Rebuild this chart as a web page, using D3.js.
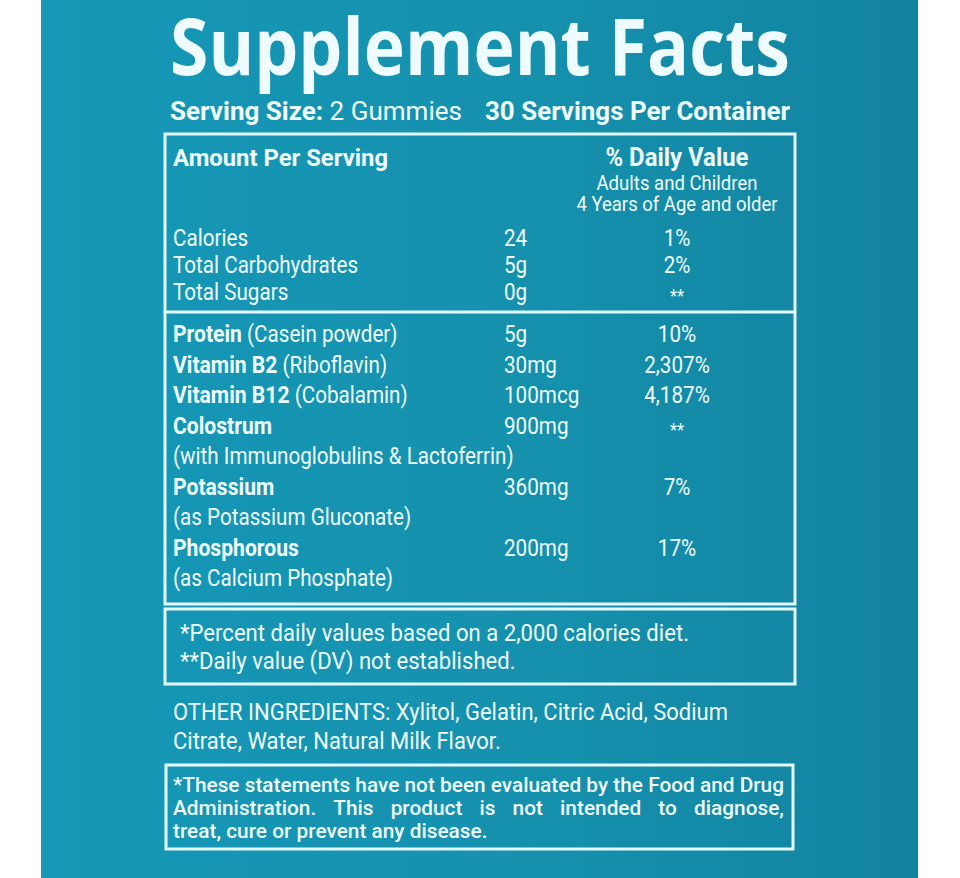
<!DOCTYPE html>
<html>
<head>
<meta charset="utf-8">
<script src="https://cdn.jsdelivr.net/npm/d3@7"></script>
<style>
  html, body { margin: 0; padding: 0; background: #fff; }
  svg { display: block; }
</style>
</head>
<body>
<svg id="label" width="960" height="878"></svg>
<script>
// label content
var title = "Supplement Facts";
var servingSize = ["Serving Size:", "2 Gummies"];
var servingsPer = "30 Servings Per Container";
var headLeft = "Amount Per Serving";
var headRight = ["% Daily Value", "Adults and Children", "4 Years of Age and older"];

var topNames = ["Calories", "Total Carbohydrates", "Total Sugars"];
var topAmounts = ["24", "5g", "0g"];
var topDV = ["1%", "2%", "**"];

var nutrientNames = ["Protein", "Vitamin B2", "Vitamin B12", "Colostrum", "Potassium", "Phosphorous"];
var nutrientSources = ["(Casein powder)", "(Riboflavin)", "(Cobalamin)",
  "(with Immunoglobulins & Lactoferrin)", "(as Potassium Gluconate)", "(as Calcium Phosphate)"];
var nutrientAmounts = ["5g", "30mg", "100mcg", "900mg", "360mg", "200mg"];
var nutrientDV = ["10%", "2,307%", "4,187%", "**", "7%", "17%"];

var footnotes = ["*Percent daily values based on a 2,000 calories diet.",
  "**Daily value (DV) not established."];
var otherIngredients = ["OTHER INGREDIENTS: Xylitol, Gelatin, Citric Acid, Sodium",
  "Citrate, Water, Natural Milk Flavor."];
var disclaimer = ["*These statements have not been evaluated by the Food and Drug",
  "Administration. This product is not intended to diagnose,",
  "treat, cure or prevent any disease."];

var svg = d3.select("#label");
var ink = "#eefcff";
var line = "#e4f9fd";
var cond = "Roboto, 'Noto Sans', sans-serif";

// background
var defs = svg.append("defs");
var grad = defs.append("linearGradient").attr("id", "bg").attr("x1", 0).attr("x2", 1).attr("y1", 0).attr("y2", 0);
grad.append("stop").attr("offset", 0).attr("stop-color", "#1698b7");
grad.append("stop").attr("offset", 0.55).attr("stop-color", "#1591ae");
grad.append("stop").attr("offset", 1).attr("stop-color", "#12839f");
svg.append("rect").attr("x", 41).attr("y", 0).attr("width", 877).attr("height", 878).attr("fill", "url(#bg)");

// squeeze a text to a target width (reads like a condensed face)
function fitTo(sel, w) {
  sel.each(function() {
    if (this.getComputedTextLength() > 0)
      d3.select(this).attr("textLength", w).attr("lengthAdjust", "spacingAndGlyphs");
  });
  return sel;
}
function squeeze(sel, k) {
  sel.each(function() {
    var n = this.getComputedTextLength();
    d3.select(this).attr("textLength", n * k).attr("lengthAdjust", "spacingAndGlyphs");
  });
  return sel;
}
// one ratio for a block of lines, taken from its first line
function blockRatio(sel, w) {
  return w / sel.node().getComputedTextLength();
}

// title
fitTo(svg.append("text").attr("x", 170).attr("y", 75)
  .attr("font-family", "'Open Sans', sans-serif").attr("font-weight", 700).attr("font-size", 78)
  .attr("fill", ink).text(title), 620);

// serving line
var s1 = svg.append("text").attr("x", 170).attr("y", 120).attr("font-family", cond)
  .attr("font-size", 26).attr("fill", ink);
s1.append("tspan").attr("font-weight", 700).text(servingSize[0] + " ");
s1.append("tspan").attr("font-weight", 400).text(servingSize[1]);
fitTo(s1, 292);
fitTo(svg.append("text").attr("x", 485).attr("y", 120).attr("font-family", cond)
  .attr("font-size", 26).attr("font-weight", 700).attr("fill", ink).text(servingsPer), 305);

// boxes
var boxL = 165, boxR = 795;
svg.append("rect").attr("x", boxL).attr("y", 134).attr("width", boxR - boxL).attr("height", 604 - 134)
  .attr("fill", "none").attr("stroke", line).attr("stroke-width", 3);
svg.append("line").attr("x1", boxL).attr("x2", boxR).attr("y1", 312).attr("y2", 312)
  .attr("stroke", line).attr("stroke-width", 3);
svg.append("rect").attr("x", boxL).attr("y", 609).attr("width", boxR - boxL).attr("height", 684 - 609)
  .attr("fill", "none").attr("stroke", line).attr("stroke-width", 3);
svg.append("rect").attr("x", 166).attr("y", 765).attr("width", 793 - 166).attr("height", 849 - 765)
  .attr("fill", "none").attr("stroke", line).attr("stroke-width", 3);

// columns
var col = { name: 173, amount: 504, dv: 677 };
var FS = 24, K = 0.86, KB = 0.88;

// headers
fitTo(svg.append("text").attr("x", col.name).attr("y", 166).attr("font-family", cond)
  .attr("font-size", 24.5).attr("font-weight", 700).attr("fill", ink).text(headLeft), 215);
var hy = [166, 190, 211], hs = [25, 19.5, 19.5], hw = [700, 400, 400], hl = [143, 161, 201];
svg.selectAll("text.hr").data(headRight).enter().append("text").attr("class", "hr")
  .attr("x", col.dv).attr("y", function(d, i) { return hy[i]; })
  .attr("text-anchor", "middle").attr("font-family", cond)
  .attr("font-size", function(d, i) { return hs[i]; })
  .attr("font-weight", function(d, i) { return hw[i]; })
  .attr("fill", ink).text(function(d) { return d; })
  .each(function(d, i) { fitTo(d3.select(this), hl[i]); });

// top rows
var yTop = d3.scaleLinear().domain([0, 1]).range([246, 273]);
var topRows = topNames.map(function(d, i) { return { name: d, amount: topAmounts[i], dv: topDV[i], i: i }; });
var tg = svg.selectAll("g.top").data(topRows).enter().append("g").attr("class", "top")
  .attr("font-family", cond).attr("font-size", FS).attr("fill", ink);
tg.append("text").attr("x", col.name).attr("y", function(d) { return yTop(d.i); })
  .text(function(d) { return d.name; }).call(squeeze, K);
tg.append("text").attr("x", col.amount).attr("y", function(d) { return yTop(d.i); })
  .text(function(d) { return d.amount; }).call(squeeze, K);
tg.append("text").attr("x", col.dv).attr("y", function(d) { return yTop(d.i) + (d.dv === "**" ? 2 : 0); })
  .attr("text-anchor", "middle")
  .attr("font-size", function(d) { return d.dv === "**" ? 19 : FS; })
  .text(function(d) { return d.dv; }).call(squeeze, K);

// nutrient rows: the source goes to its own line when it would run into the amount column
var probe = svg.append("text").attr("font-family", cond).attr("font-size", FS);
function widthOf(t, w) { probe.attr("font-weight", w).text(t); return probe.node().getComputedTextLength(); }
var gapW = widthOf("a a", 400) - widthOf("aa", 400);
var lines = [];
nutrientNames.forEach(function(n, i) {
  var full = widthOf(n, 700) * KB + gapW * K + widthOf(nutrientSources[i], 400) * K;
  var wrap = col.name + full > col.amount - 6;
  lines.push({ name: n, source: wrap ? null : nutrientSources[i], amount: nutrientAmounts[i], dv: nutrientDV[i] });
  if (wrap) lines.push({ name: null, source: nutrientSources[i] });
});
probe.remove();

var yLow = d3.scaleLinear().domain([0, 1]).range([342, 372.5]);
var lg = svg.selectAll("g.low").data(lines).enter().append("g").attr("class", "low")
  .attr("font-family", cond).attr("font-size", FS).attr("fill", ink);
lg.each(function(d, i) {
  var g = d3.select(this), y = yLow(i), x = col.name;
  if (d.name) {
    var t = g.append("text").attr("x", x).attr("y", y).attr("font-weight", 700).text(d.name);
    squeeze(t, KB);
    x = col.name + (+t.attr("textLength")) + gapW * K;
  }
  if (d.source) {
    squeeze(g.append("text").attr("x", x).attr("y", y).attr("font-weight", 400).text(d.source), K);
  }
  if (d.amount) {
    squeeze(g.append("text").attr("x", col.amount).attr("y", y).text(d.amount), K);
    squeeze(g.append("text").attr("x", col.dv).attr("y", y + (d.dv === "**" ? 2 : 0))
      .attr("text-anchor", "middle").attr("font-size", d.dv === "**" ? 19 : FS).text(d.dv), K);
  }
});

// footnotes
var fn = svg.selectAll("text.fn").data(footnotes).enter().append("text").attr("class", "fn")
  .attr("x", 180).attr("y", function(d, i) { return 641 + i * 28; })
  .attr("font-family", cond).attr("font-size", 23).attr("fill", ink)
  .text(function(d) { return d; });
fn.call(squeeze, blockRatio(fn, 509));

// other ingredients
var oi = svg.selectAll("text.oi").data(otherIngredients).enter().append("text").attr("class", "oi")
  .attr("x", 173).attr("y", function(d, i) { return 720 + i * 28.5; })
  .attr("font-family", cond).attr("font-size", 23).attr("fill", ink)
  .text(function(d) { return d; });
oi.call(squeeze, blockRatio(oi, 555));

// disclaimer, justified inside its box
var dL = 173, dR = 784;
var dg = svg.append("g").attr("font-family", cond).attr("font-weight", 500)
  .attr("font-size", 19.5).attr("fill", ink);
var dProbe = dg.append("text");
function dW(t) { dProbe.text(t); return dProbe.node().getComputedTextLength(); }
var dk = (dR - dL) / dW(disclaimer[0]);
var dSpace = (dW("a a") - dW("aa")) * dk;
disclaimer.forEach(function(ln, li) {
  var words = ln.split(" ");
  var ws = words.map(function(w) { return dW(w) * dk; });
  var total = d3.sum(ws);
  var gap = li < disclaimer.length - 1 ? (dR - dL - total) / (words.length - 1) : dSpace;
  var x = dL, y = 792 + li * 23;
  words.forEach(function(w, wi) {
    dg.append("text").attr("x", x).attr("y", y).text(w)
      .attr("textLength", ws[wi]).attr("lengthAdjust", "spacingAndGlyphs");
    x += ws[wi] + gap;
  });
});
dProbe.remove();
</script>
</body>
</html>
